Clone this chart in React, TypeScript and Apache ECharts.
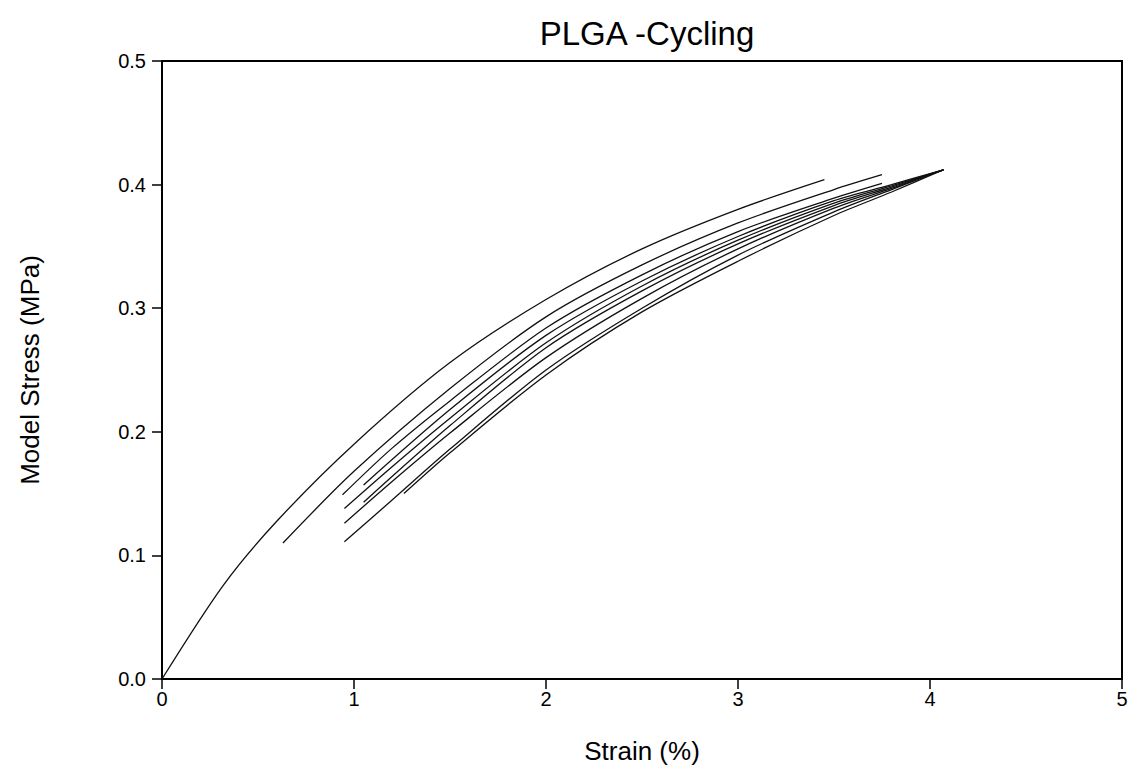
import React, { useEffect, useRef } from "react";
import * as echarts from "echarts";

const title = "PLGA -Cycling";
const xName = "Strain (%)";
const yName = "Model Stress (MPa)";

const cycle1: [number, number][] = [[0, 0], [0.32, 0.076], [0.6, 0.128], [1.0, 0.19], [1.5, 0.256], [2.0, 0.307], [2.5, 0.348], [3.0, 0.38], [3.45, 0.404]];
const cycle2: [number, number][] = [[0.63, 0.11], [1.0, 0.168], [1.5, 0.235], [2.0, 0.293], [2.5, 0.335], [3.0, 0.369], [3.5, 0.396], [3.75, 0.408]];
const cycle3: [number, number][] = [[0.94, 0.149], [1.2, 0.187], [1.5, 0.225], [2.0, 0.284], [2.5, 0.327], [3.0, 0.362], [3.5, 0.389], [3.75, 0.401]];
const cycle4: [number, number][] = [[1.05, 0.157], [1.5, 0.218], [2.0, 0.278], [2.5, 0.322], [3.0, 0.358], [3.5, 0.387], [3.8, 0.4], [4.07, 0.412]];
const cycle5: [number, number][] = [[0.95, 0.138], [1.2, 0.172], [1.5, 0.211], [2.0, 0.272], [2.5, 0.318], [3.0, 0.355], [3.5, 0.385], [3.8, 0.399], [4.07, 0.412]];
const cycle6: [number, number][] = [[1.05, 0.143], [1.5, 0.205], [2.0, 0.268], [2.5, 0.314], [3.0, 0.352], [3.5, 0.383], [3.8, 0.398], [4.07, 0.412]];
const cycle7: [number, number][] = [[0.95, 0.126], [1.2, 0.16], [1.5, 0.199], [2.0, 0.26], [2.5, 0.308], [3.0, 0.348], [3.5, 0.381], [3.8, 0.397], [4.07, 0.412]];
const cycle8: [number, number][] = [[0.95, 0.111], [1.2, 0.145], [1.5, 0.186], [2.0, 0.25], [2.5, 0.3], [3.0, 0.343], [3.5, 0.378], [3.8, 0.396], [4.07, 0.412]];
const cycle9: [number, number][] = [[1.26, 0.15], [1.5, 0.183], [2.0, 0.246], [2.5, 0.297], [3.0, 0.338], [3.5, 0.375], [3.8, 0.394], [4.07, 0.412]];

const cycles = [cycle1, cycle2, cycle3, cycle4, cycle5, cycle6, cycle7, cycle8, cycle9];

const FONT = "'Liberation Sans', Arial, sans-serif";

export default function App() {
  const ref = useRef<HTMLDivElement>(null);
  useEffect(() => {
    if (!ref.current) return;
    const chart = echarts.init(ref.current, undefined, { renderer: "svg" });
    chart.setOption({
      animation: false,
      backgroundColor: "#fff",
      title: {
        text: title,
        left: 642,
        textAlign: "center",
        top: 12,
        textStyle: { fontFamily: FONT, fontSize: 33, fontWeight: "normal", color: "#000" },
      },
      grid: {
        left: 162,
        right: 17,
        top: 61,
        bottom: 101,
        show: true,
        borderColor: "#000",
        borderWidth: 2,
      },
      xAxis: {
        type: "value",
        min: 0,
        max: 5,
        interval: 1,
        name: xName,
        nameLocation: "middle",
        nameGap: 59,
        nameTextStyle: { fontFamily: FONT, fontSize: 26, color: "#000" },
        axisLine: { show: true, onZero: false, lineStyle: { color: "#000", width: 2 } },
        axisTick: { show: true, inside: false, length: 10, lineStyle: { color: "#000", width: 1.5 } },
        axisLabel: { fontFamily: FONT, fontSize: 20, color: "#000", margin: 10 },
        splitLine: { show: false },
      },
      yAxis: {
        type: "value",
        min: 0,
        max: 0.5,
        interval: 0.1,
        name: yName,
        nameLocation: "middle",
        nameGap: 119,
        nameRotate: 90,
        nameTextStyle: { fontFamily: FONT, fontSize: 26, color: "#000" },
        axisLine: { show: true, onZero: false, lineStyle: { color: "#000", width: 2 } },
        axisTick: { show: true, inside: false, length: 10, lineStyle: { color: "#000", width: 1.5 } },
        axisLabel: {
          fontFamily: FONT,
          fontSize: 20,
          color: "#000",
          margin: 16,
          formatter: (v: number) => v.toFixed(1),
        },
        splitLine: { show: false },
      },
      series: cycles.map((c, i) => ({
        name: "cycle" + (i + 1),
        type: "line",
        data: c,
        showSymbol: false,
        smooth: 0.3,
        lineStyle: { color: "#111", width: 1.3 },
      })),
    });
    return () => chart.dispose();
  }, []);
  return <div ref={ref} style={{ width: 1139, height: 780, position: "absolute", left: 0, top: 0 }} />;
}
